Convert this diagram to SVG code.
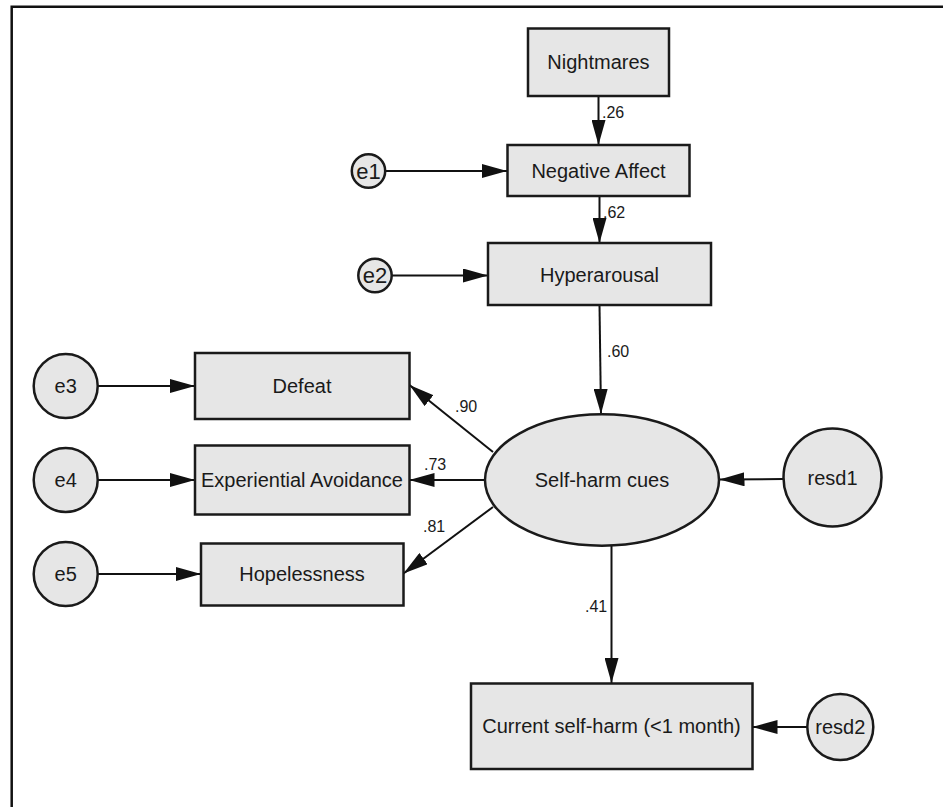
<svg xmlns="http://www.w3.org/2000/svg" width="943" height="807" viewBox="0 0 943 807">
<style>
.box{fill:#e6e6e6;stroke:#1a1a1a;stroke-width:2.5}
.lbl{font-family:"Liberation Sans",Arial,sans-serif;font-size:20px;fill:#1a1a1a;text-anchor:middle;dominant-baseline:central}
.w{font-family:"Liberation Sans",Arial,sans-serif;font-size:16px;fill:#1a1a1a}
.c{fill:none;stroke:#111;stroke-width:2;marker-end:url(#ah)}
</style>
<defs>
<marker id="ah" markerUnits="userSpaceOnUse" markerWidth="25" markerHeight="14" refX="25" refY="7" orient="auto">
<path d="M0,0 L25,7 L0,14 z" fill="#111"/>
</marker>
</defs>
<rect width="943" height="807" fill="#fff"/>
<path d="M11.7,807 V6.7 H943" fill="none" stroke="#111" stroke-width="2.5"/>
<g id="connectors">
<line class="c" x1="598.5" y1="96" x2="598.5" y2="145"/>
<line class="c" x1="385" y1="171" x2="507" y2="171"/>
<line class="c" x1="599.5" y1="196" x2="599.5" y2="243"/>
<line class="c" x1="392" y1="275.5" x2="488" y2="275.5"/>
<line class="c" x1="599.5" y1="305" x2="601" y2="414"/>
<line class="c" x1="98" y1="386" x2="195" y2="386"/>
<line class="c" x1="98" y1="480" x2="195" y2="480"/>
<line class="c" x1="98" y1="574" x2="201" y2="574"/>
<line class="c" x1="493" y1="452" x2="409.5" y2="385"/>
<line class="c" x1="485" y1="480" x2="409.5" y2="480"/>
<line class="c" x1="493" y1="507" x2="403.5" y2="573.5"/>
<line class="c" x1="783" y1="479" x2="719.5" y2="479.5"/>
<line class="c" x1="611.5" y1="546" x2="611.5" y2="683"/>
<line class="c" x1="808" y1="727" x2="752.5" y2="727"/>
<text class="w" x="602" y="118">.26</text>
<text class="w" x="603" y="218">.62</text>
<text class="w" x="607" y="357">.60</text>
<text class="w" x="455" y="412">.90</text>
<text class="w" x="424" y="470">.73</text>
<text class="w" x="423" y="532">.81</text>
<text class="w" x="585" y="612">.41</text>
</g>
<g id="nightmares"><rect class="box" x="528" y="28.5" width="141" height="67.5"/><text class="lbl" x="598.5" y="62">Nightmares</text></g>
<g id="negative-affect"><rect class="box" x="507.5" y="145" width="182" height="51"/><text class="lbl" x="598.5" y="171">Negative Affect</text></g>
<g id="hyperarousal"><rect class="box" x="488" y="243" width="223" height="62"/><text class="lbl" x="599.5" y="275">Hyperarousal</text></g>
<g id="e1"><circle class="box" cx="368.5" cy="171" r="16.7"/><text class="lbl" x="368.5" y="171" style="font-size:22px">e1</text></g>
<g id="e2"><circle class="box" cx="375" cy="275.5" r="16.7"/><text class="lbl" x="375" y="275.5" style="font-size:22px">e2</text></g>
<g id="defeat"><rect class="box" x="195" y="353" width="214.5" height="66"/><text class="lbl" x="302" y="386">Defeat</text></g>
<g id="experiential-avoidance"><rect class="box" x="195" y="445.5" width="214.5" height="69"/><text class="lbl" x="302" y="480">Experiential Avoidance</text></g>
<g id="hopelessness"><rect class="box" x="201" y="543.5" width="202.5" height="62"/><text class="lbl" x="302" y="574">Hopelessness</text></g>
<g id="e3"><circle class="box" cx="65.7" cy="386" r="32"/><text class="lbl" x="65.7" y="386">e3</text></g>
<g id="e4"><circle class="box" cx="65.7" cy="480" r="32"/><text class="lbl" x="65.7" y="480">e4</text></g>
<g id="e5"><circle class="box" cx="65.7" cy="574" r="32"/><text class="lbl" x="65.7" y="574">e5</text></g>
<g id="self-harm-cues"><ellipse class="box" cx="602" cy="480" rx="117" ry="65.7"/><text class="lbl" x="602" y="480">Self-harm cues</text></g>
<g id="resd1"><circle class="box" cx="832.5" cy="477.5" r="49"/><text class="lbl" x="832.5" y="478">resd1</text></g>
<g id="current-self-harm"><rect class="box" x="471" y="683.5" width="281.5" height="85.5"/><text class="lbl" x="611.5" y="726">Current self-harm (&lt;1 month)</text></g>
<g id="resd2"><circle class="box" cx="840.3" cy="727" r="33"/><text class="lbl" x="840.3" y="727">resd2</text></g>
</svg>
